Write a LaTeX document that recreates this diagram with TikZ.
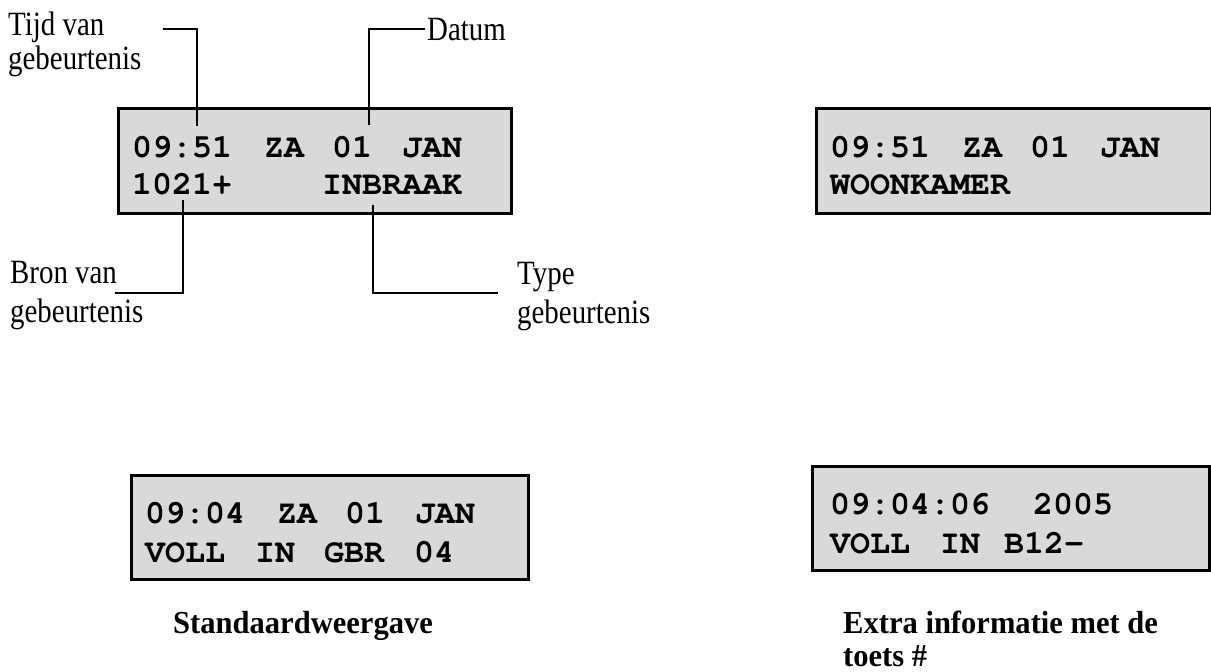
\documentclass[tikz,border=0pt]{standalone}
\usepackage[T1]{fontenc}
\usepackage{fontspec}
\setmainfont{Liberation Serif}
\newfontfamily\labfont[FakeStretch=0.85]{Liberation Serif}
\newfontfamily\capfont[FakeStretch=0.955]{Liberation Serif}
\newcommand\lcdfont{\fontsize{33.3}{40}\usefont{T1}{pcr}{b}{n}}
\tikzset{
  lcd/.style={draw=black, line width=2.5pt, fill=black!15, inner sep=0pt, anchor=north west},
  lcdtext/.style={anchor=base west, inner sep=0pt, font=\lcdfont},
  lab/.style={anchor=base west, inner sep=0pt, font=\labfont\fontsize{34}{36}\selectfont},
  capt/.style={anchor=base west, inner sep=0pt, font=\capfont\bfseries\fontsize{32}{35}\selectfont},
  conn/.style={line width=2pt}
}
\begin{document}
\begin{tikzpicture}[x=1pt,y=-1pt]
\useasboundingbox (0,0) rectangle (1211,672);
% boxes
\node[lcd, minimum width=393pt, minimum height=105pt] (box1) at (117,107) {};
\node[lcd, minimum width=395pt, minimum height=105pt] (box2) at (815,107) {};
\node[lcd, minimum width=397pt, minimum height=104pt] (box3) at (130,474) {};
\node[lcd, minimum width=397pt, minimum height=104pt] (box4) at (811,465) {};
% box 1 text
\node[lcdtext] (b1a) at (132,157) {09:51};
\node[lcdtext] (b1b) at (264,157) {ZA};
\node[lcdtext] (b1c) at (332,157) {01};
\node[lcdtext] (b1d) at (402,157) {JAN};
\node[lcdtext] (b1e) at (132,194) {1021+};
\node[lcdtext] (b1f) at (322,194) {INBRAAK};
% box 2 text
\node[lcdtext] (b2a) at (830,157) {09:51};
\node[lcdtext] (b2b) at (962,157) {ZA};
\node[lcdtext] (b2c) at (1030,157) {01};
\node[lcdtext] (b2d) at (1100,157) {JAN};
\node[lcdtext] (b2e) at (830,194) {WOONKAMER};
% box 3 text
\node[lcdtext] (b3a) at (145,523) {09:04};
\node[lcdtext] (b3b) at (277,523) {ZA};
\node[lcdtext] (b3c) at (345,523) {01};
\node[lcdtext] (b3d) at (415,523) {JAN};
\node[lcdtext] (b3e) at (145,562) {VOLL};
\node[lcdtext] (b3f) at (255,562) {IN};
\node[lcdtext] (b3g) at (324,562) {GBR};
\node[lcdtext] (b3h) at (414,562) {04};
% box 4 text
\node[lcdtext] (b4a) at (830,514) {09:04:06};
\node[lcdtext] (b4b) at (1033,514) {2005};
\node[lcdtext] (b4c) at (830,553) {VOLL};
\node[lcdtext] (b4d) at (940,553) {IN};
\node[lcdtext] (b4e) at (1004,553) {B12-};
% labels
\node[lab] (tijd1) at (8,35) {Tijd van};
\node[lab] (tijd2) at (8,69) {gebeurtenis};
\node[lab] (datum) at (427,40) {Datum};
\node[lab] (bron1) at (10,283) {Bron van};
\node[lab] (bron2) at (10,322) {gebeurtenis};
\node[lab] (type1) at (517,284) {Type};
\node[lab] (type2) at (517,323) {gebeurtenis};
% captions
\node[capt] (cap1) at (173,633) {Standaardweergave};
\node[capt] (cap2a) at (843,633) {Extra informatie met de};
\node[capt] (cap2b) at (843,666) {toets \#};
% connector points
\coordinate (tijdS) at (163,29);
\coordinate (tijdE) at (197,126);
\coordinate (datE) at (425,29);
\coordinate (datS) at (369,125);
\coordinate (bronS) at (183,200);
\coordinate (bronE) at (115,293);
\coordinate (typeS) at (373,205);
\coordinate (typeE) at (498,293);
\draw[conn] (tijdS) -| (tijdE);
\draw[conn] (datS) |- (datE);
\draw[conn] (bronS) |- (bronE);
\draw[conn] (typeS) |- (typeE);
\end{tikzpicture}
\end{document}
